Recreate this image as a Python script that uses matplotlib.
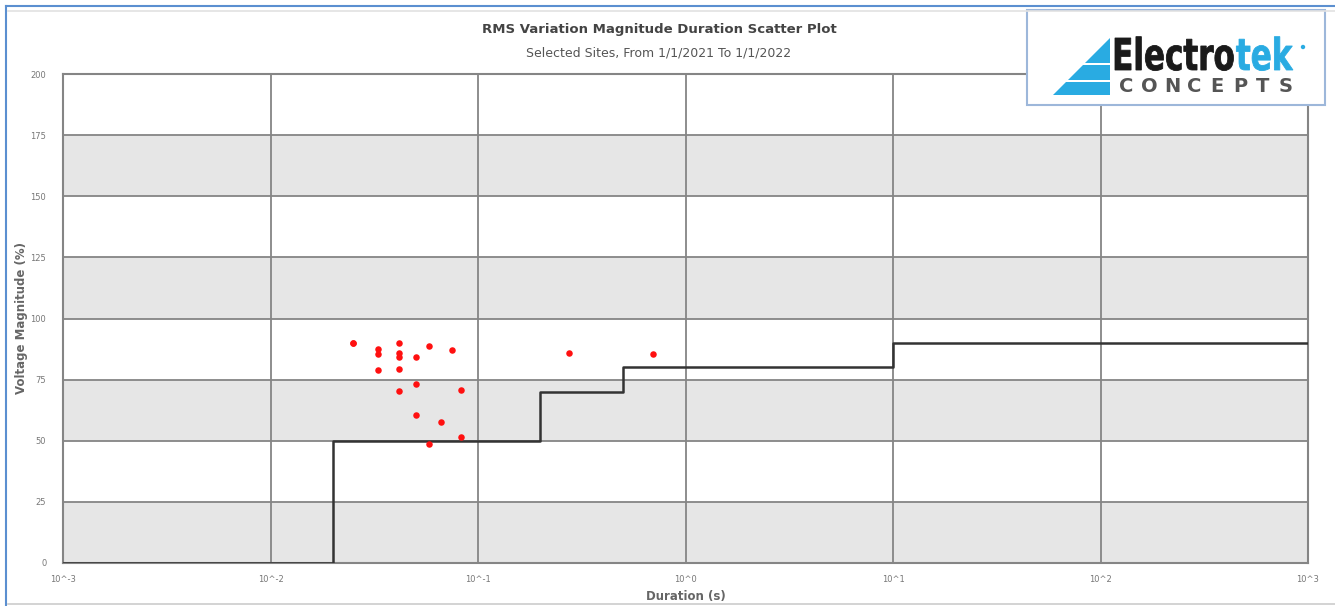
import matplotlib
matplotlib.use("Agg")
import matplotlib.pyplot as plt
from matplotlib.textpath import TextPath
from matplotlib.patches import PathPatch, Polygon, Rectangle, Circle
from matplotlib.font_manager import FontProperties
from matplotlib.transforms import Affine2D

# event data: duration (s) and voltage magnitude (%)
durations = [0.0249, 0.0249, 0.0331, 0.0331, 0.0331, 0.0418, 0.0418, 0.0418, 0.0418, 0.0418,
             0.050, 0.050, 0.050, 0.0578, 0.0578, 0.0751, 0.0665, 0.0828, 0.0828, 0.275, 0.70]
magnitudes = [89.9, 89.9, 87.5, 85.5, 79.1, 89.9, 86.0, 84.1, 79.5, 70.5,
              84.4, 73.1, 60.4, 88.8, 48.7, 87.1, 57.8, 70.6, 51.5, 86.0, 85.5]

# tolerance curve (step)
curve_t = [0.001, 0.02, 0.02, 0.2, 0.2, 0.5, 0.5, 10, 10, 1000]
curve_v = [0, 0, 50, 50, 70, 70, 80, 80, 90, 90]

xticks = [1e-3, 1e-2, 1e-1, 1e0, 1e1, 1e2, 1e3]
xtick_labels = ["10^-3", "10^-2", "10^-1", "10^0", "10^1", "10^2", "10^3"]
yticks = [0, 25, 50, 75, 100, 125, 150, 175, 200]

W, H = 1335, 606
fig = plt.figure(figsize=(W / 100, H / 100), dpi=100)
ax = fig.add_axes([63 / W, (H - 563) / H, (1308 - 63) / W, (563 - 74) / H])

for lo in [0, 50, 100, 150]:
    ax.axhspan(lo, lo + 25, color="#e6e6e6", zorder=0, lw=0)

ax.set_xscale("log")
ax.set_xlim(1e-3, 1e3)
ax.set_ylim(0, 200)
ax.set_xticks(xticks)
ax.set_xticklabels(xtick_labels)
ax.minorticks_off()
ax.set_yticks(yticks)
ax.grid(True, color="#858585", lw=1.3, zorder=1)
ax.set_axisbelow(True)
for s in ax.spines.values():
    s.set_color("#858585")
    s.set_linewidth(1.5)
ax.tick_params(axis="both", length=0, labelsize=6, colors="#777777")
ax.tick_params(axis="x", pad=9)
ax.tick_params(axis="y", pad=12)

ax.plot(curve_t, curve_v, color="#333333", lw=1.8, zorder=3)
ax.scatter(durations, magnitudes, s=22, color="#ff1010", zorder=4, lw=0)

ax.set_xlabel("Duration (s)", fontsize=8.5, fontweight="bold", color="#666666", labelpad=4)
ax.set_ylabel("Voltage Magnitude (%)", fontsize=8.5, fontweight="bold", color="#666666", labelpad=2)

fig.text(659 / W, 1 - 30 / H, "RMS Variation Magnitude Duration Scatter Plot",
         ha="center", va="center", fontsize=9.5, fontweight="bold", color="#444444")
fig.text(659 / W, 1 - 53 / H, "Selected Sites, From 1/1/2021 To 1/1/2022",
         ha="center", va="center", fontsize=9, color="#555555")

# overlay for frame and logo
ov = fig.add_axes([0, 0, 1, 1], zorder=10)
ov.set_xlim(0, W)
ov.set_ylim(0, H)
ov.axis("off")
ov.plot([6, W], [H - 6, H - 6], color="#5b8fd0", lw=1.5)
ov.plot([6, 6], [H - 6, 0], color="#5b8fd0", lw=1.5)
ov.plot([8, W], [H - 11, H - 11], color="#e2e2e2", lw=1.2)
ov.plot([8, W], [H - 604, H - 604], color="#cccccc", lw=1.2)

ov.add_patch(Rectangle((1027, H - 105), 298, 95, facecolor="white",
                       edgecolor="#9db7da", lw=1.5))

def yy(y):
    return H - y

for ya, yb in [(38, 63), (65, 80), (82, 95)]:
    xa = 1053 + (95 - ya)
    xb = 1053 + (95 - yb)
    ov.add_patch(Polygon([(xa, yy(ya)), (1110, yy(ya)), (1110, yy(yb)), (xb, yy(yb))],
                         closed=True, color="#29abe2", lw=0))

fp = FontProperties(family="DejaVu Sans", weight="bold")
p1 = TextPath((0, 0), "Electro", size=1, prop=fp)
p2 = TextPath((0, 0), "tek", size=1, prop=fp)
e1 = p1.get_extents()
e2 = p2.get_extents()
cap = TextPath((0, 0), "E", size=1, prop=fp).get_extents().height
sy = 32 / cap
sx = 178 / (e1.x1 + e2.x1 - e2.x0)
x0 = 1115
base = yy(70)
ov.add_patch(PathPatch(Affine2D().scale(sx, sy).translate(x0 - e1.x0 * sx, base).transform_path(p1),
                       color="#1a1a1a", lw=0.6))
ov.add_patch(PathPatch(Affine2D().scale(sx, sy).translate(x0 + (e1.x1 - e2.x0) * sx, base).transform_path(p2),
                       color="#29abe2", lw=0.6))
ov.add_patch(Circle((1303, yy(47)), 2.2, color="#29abe2", lw=0))

for i, ch in enumerate("CONCEPTS"):
    ov.text(1115 + (i + 0.5) * 182 / 8, yy(92), ch, ha="center", va="baseline",
            fontsize=14, color="#555555", family="DejaVu Sans", fontweight="bold")

fig.savefig("out.png", dpi=100)
